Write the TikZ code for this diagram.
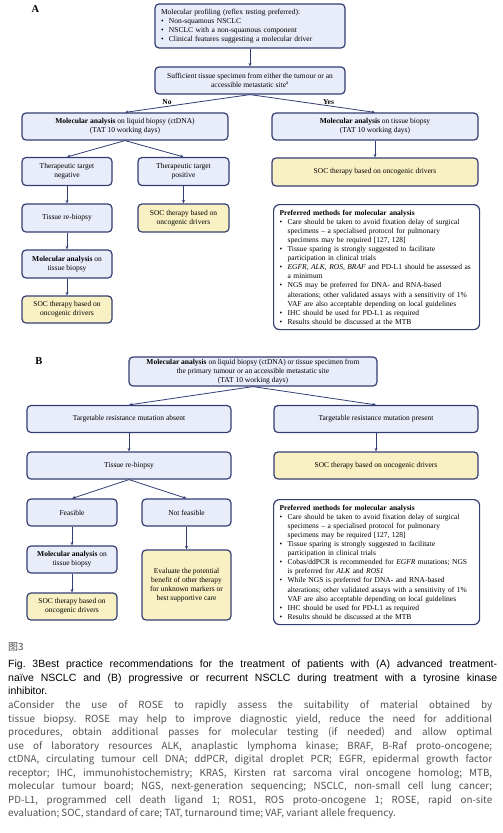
\documentclass[tikz,border=0pt]{standalone}
\usepackage{fontspec}
\setmainfont{Liberation Serif}
\newfontfamily\capfont{Liberation Sans}
\newfontfamily\grayfont{Noto Sans CJK KR}
\newfontfamily\cjkfont{Noto Sans CJK SC}
\usetikzlibrary{arrows.meta}
\definecolor{navy}{RGB}{52,62,115}
\definecolor{boxblue}{RGB}{233,236,249}
\definecolor{boxyellow}{RGB}{249,241,196}
\definecolor{capgray}{RGB}{80,80,80}
\frenchspacing
\newcommand\bfs{\fontsize{7.5}{8.9}\selectfont}
\newcommand\pfs{\fontsize{7.5}{9.1}\selectfont}
\newcommand\bl{\makebox[8pt][l]{•}}
\newcommand\ind{\hspace*{8pt}}
\newcommand\jl[1]{\makebox[484pt][s]{#1}}
\newcommand\jk[1]{\makebox[489pt][s]{#1}}
\tikzset{
  box/.style={draw=navy, line width=1.2pt, rounded corners=4pt, fill=boxblue, align=center, inner sep=1pt, font=\bfs},
  ybox/.style={box, fill=boxyellow},
  pbox/.style={draw=navy, line width=1.2pt, rounded corners=6pt, fill=white, align=left, inner xsep=6pt, inner ysep=2pt, font=\pfs, anchor=north west, text width=194pt, minimum height=125pt},
  conn/.style={draw=navy, line width=0.8pt, -{Stealth[length=3.5pt,width=3pt]}},
  lbl/.style={font=\fontsize{7.5}{8}\selectfont\bfseries, inner sep=0pt},
  panel/.style={font=\fontsize{10.5}{12}\selectfont\bfseries, inner sep=0pt},
  capb/.style={font=\capfont\fontsize{10.5}{12}\selectfont, anchor=base west, inner sep=0pt},
  capg/.style={font=\grayfont\fontsize{9.8}{12}\selectfont, text=capgray, anchor=base west, inner sep=0pt}
}
\begin{document}
\begin{tikzpicture}[x=1pt,y=-1pt]
\useasboundingbox (0,0) rectangle (503,833);
% ---------- Panel A ----------
\node[panel] (labA) at (35.5,9.5) {A};
\node[box, align=left, text width=178pt, inner xsep=6pt, minimum height=44pt] (topA) at (250,26)
 {Molecular profiling (reflex testing preferred):\\ \bl Non-squamous NSCLC\\ \bl NSCLC with a non-squamous component\\ \bl Clinical features suggesting a molecular driver};
\node[box, minimum width=190pt, minimum height=27pt] (suffA) at (250,80.5)
 {Sufficient tissue specimen from either the tumour or an\\accessible metastatic site\textsuperscript{a}};
\node[box, minimum width=206pt, minimum height=27pt] (liqA) at (125,126.5)
 {\textbf{Molecular analysis} on liquid biopsy (ctDNA)\\(TAT 10 working days)};
\node[box, minimum width=206pt, minimum height=27pt] (tisA) at (375,126.5)
 {\textbf{Molecular analysis} on tissue biopsy\\(TAT 10 working days)};
\node[box, minimum width=90pt, minimum height=28pt] (negA) at (67,171.5) {Therapeutic target\\negative};
\node[box, minimum width=91pt, minimum height=28pt] (posA) at (183.5,171.5) {Therapeutic target\\positive};
\node[ybox, minimum width=206pt, minimum height=28pt] (socA1) at (375,172) {SOC therapy based on oncogenic drivers};
\node[box, minimum width=90pt, minimum height=28pt] (rebA) at (67,218) {Tissue re-biopsy};
\node[ybox, minimum width=91pt, minimum height=28pt] (socA2) at (183.5,218) {SOC therapy based on\\oncogenic drivers};
\node[box, minimum width=90pt, minimum height=28pt] (molA) at (67,264) {\textbf{Molecular analysis} on\\tissue biopsy};
\node[ybox, minimum width=90pt, minimum height=27pt] (socA3) at (67,309.5) {SOC therapy based on\\oncogenic drivers};
\node[pbox] (prefA) at (273,204) {\textbf{Preferred methods for molecular analysis}\\
\bl Care should be taken to avoid fixation delay of surgical\\
\ind specimens -- a specialised protocol for pulmonary\\
\ind specimens may be required [127, 128]\\
\bl Tissue sparing is strongly suggested to facilitate\\
\ind participation in clinical trials\\
\bl \textit{EGFR, ALK, ROS, BRAF} and PD-L1 should be assessed as\\
\ind a minimum\\
\bl NGS may be preferred for DNA- and RNA-based\\
\ind alterations; other validated assays with a sensitivity of 1\%\\
\ind VAF are also acceptable depending on local guidelines\\
\bl IHC should be used for PD-L1 as required\\
\bl Results should be discussed at the MTB};
\node[lbl] (noA) at (167,102) {No};
\node[lbl] (yesA) at (328.5,102) {Yes};
\draw[conn] (topA.south) -- (suffA.north);
\draw[conn] (suffA.south) -- (liqA.north);
\draw[conn] (suffA.south) -- (tisA.north);
\draw[conn] (liqA.south) -- (negA.north);
\draw[conn] (liqA.south) -- (posA.north);
\draw[conn] (tisA.south) -- (socA1.north);
\draw[conn] (negA.south) -- (rebA.north);
\draw[conn] (posA.south) -- (socA2.north);
\draw[conn] (rebA.south) -- (molA.north);
\draw[conn] (molA.south) -- (socA3.north);
% ---------- Panel B ----------
\node[panel] (labB) at (39,361.5) {B};
\node[box, minimum width=248pt, minimum height=29pt] (topB) at (253,371.5)
 {\textbf{Molecular analysis} on liquid biopsy (ctDNA) or tissue specimen from\\the primary tumour or an accessible metastatic site\\(TAT 10 working days)};
\node[box, minimum width=204pt, minimum height=27pt] (absB) at (129,419) {Targetable resistance mutation absent};
\node[box, minimum width=204pt, minimum height=27pt] (presB) at (376,419) {Targetable resistance mutation present};
\node[box, minimum width=204pt, minimum height=27pt] (rebB) at (129,465.5) {Tissue re-biopsy};
\node[ybox, minimum width=204pt, minimum height=27pt] (socB1) at (376,465.5) {SOC therapy based on oncogenic drivers};
\node[box, minimum width=90pt, minimum height=27pt] (feasB) at (72,512.5) {Feasible};
\node[box, minimum width=89pt, minimum height=27pt] (notB) at (186.5,512.5) {Not feasible};
\node[box, minimum width=90pt, minimum height=27pt] (molB) at (72,559.5) {\textbf{Molecular analysis} on\\tissue biopsy};
\node[ybox, minimum width=90pt, minimum height=27pt] (socB2) at (72,606.5) {SOC therapy based on\\oncogenic drivers};
\node[ybox, minimum width=89pt, minimum height=70pt] (evalB) at (186.5,585) {Evaluate the potential\\benefit of other therapy\\for unknown markers or\\best supportive care};
\node[pbox] (prefB) at (273,499) {\textbf{Preferred methods for molecular analysis}\\
\bl Care should be taken to avoid fixation delay of surgical\\
\ind specimens -- a specialised protocol for pulmonary\\
\ind specimens may be required [127, 128]\\
\bl Tissue sparing is strongly suggested to facilitate\\
\ind participation in clinical trials\\
\bl Cobas/ddPCR is recommended for \textit{EGFR} mutations; NGS\\
\ind is preferred for \textit{ALK} and \textit{ROS1}\\
\bl While NGS is preferred for DNA- and RNA-based\\
\ind alterations; other validated assays with a sensitivity of 1\%\\
\ind VAF are also acceptable depending on local guidelines\\
\bl IHC should be used for PD-L1 as required\\
\bl Results should be discussed at the MTB};
\draw[conn] (topB.south) -- (absB.north);
\draw[conn] (topB.south) -- (presB.north);
\draw[conn] (absB.south) -- (rebB.north);
\draw[conn] (presB.south) -- (socB1.north);
\draw[conn] (rebB.south) -- (feasB.north);
\draw[conn] (rebB.south) -- (notB.north);
\draw[conn] (feasB.south) -- (molB.north);
\draw[conn] (molB.south) -- (socB2.north);
\draw[conn] (notB.south) -- (evalB.north);
% ---------- Caption ----------
\node[anchor=base west, inner sep=0pt, text=capgray, font=\cjkfont\fontsize{10}{12}\selectfont] (fig) at (8,650) {图3};
\node[capb] (c1) at (8,667) {\jk{Fig. 3Best practice recommendations for the treatment of patients with (A) advanced treatment-}};
\node[capb] (c2) at (8,681) {\jk{naïve NSCLC and (B) progressive or recurrent NSCLC during treatment with a tyrosine kinase}};
\node[capb] (c3) at (8,694.5) {inhibitor.};
\node[capg] (g1) at (8,708.5) {\jl{aConsider the use of ROSE to rapidly assess the suitability of material obtained by}};
\node[capg] (g2) at (8,722) {\jl{tissue biopsy. ROSE may help to improve diagnostic yield, reduce the need for additional}};
\node[capg] (g3) at (8,735.5) {\jl{procedures, obtain additional passes for molecular testing (if needed) and allow optimal}};
\node[capg] (g4) at (8,749) {\jl{use of laboratory resources ALK, anaplastic lymphoma kinase; BRAF, B-Raf proto-oncogene;}};
\node[capg] (g5) at (8,762.5) {\jl{ctDNA, circulating tumour cell DNA; ddPCR, digital droplet PCR; EGFR, epidermal growth factor}};
\node[capg] (g6) at (8,776) {\jl{receptor; IHC, immunohistochemistry; KRAS, Kirsten rat sarcoma viral oncogene homolog; MTB,}};
\node[capg] (g7) at (8,789.5) {\jl{molecular tumour board; NGS, next-generation sequencing; NSCLC, non-small cell lung cancer;}};
\node[capg] (g8) at (8,803) {\jl{PD-L1, programmed cell death ligand 1; ROS1, ROS proto-oncogene 1; ROSE, rapid on-site}};
\node[capg] (g9) at (8,816) {evaluation; SOC, standard of care; TAT, turnaround time; VAF, variant allele frequency.};
\end{tikzpicture}
\end{document}
